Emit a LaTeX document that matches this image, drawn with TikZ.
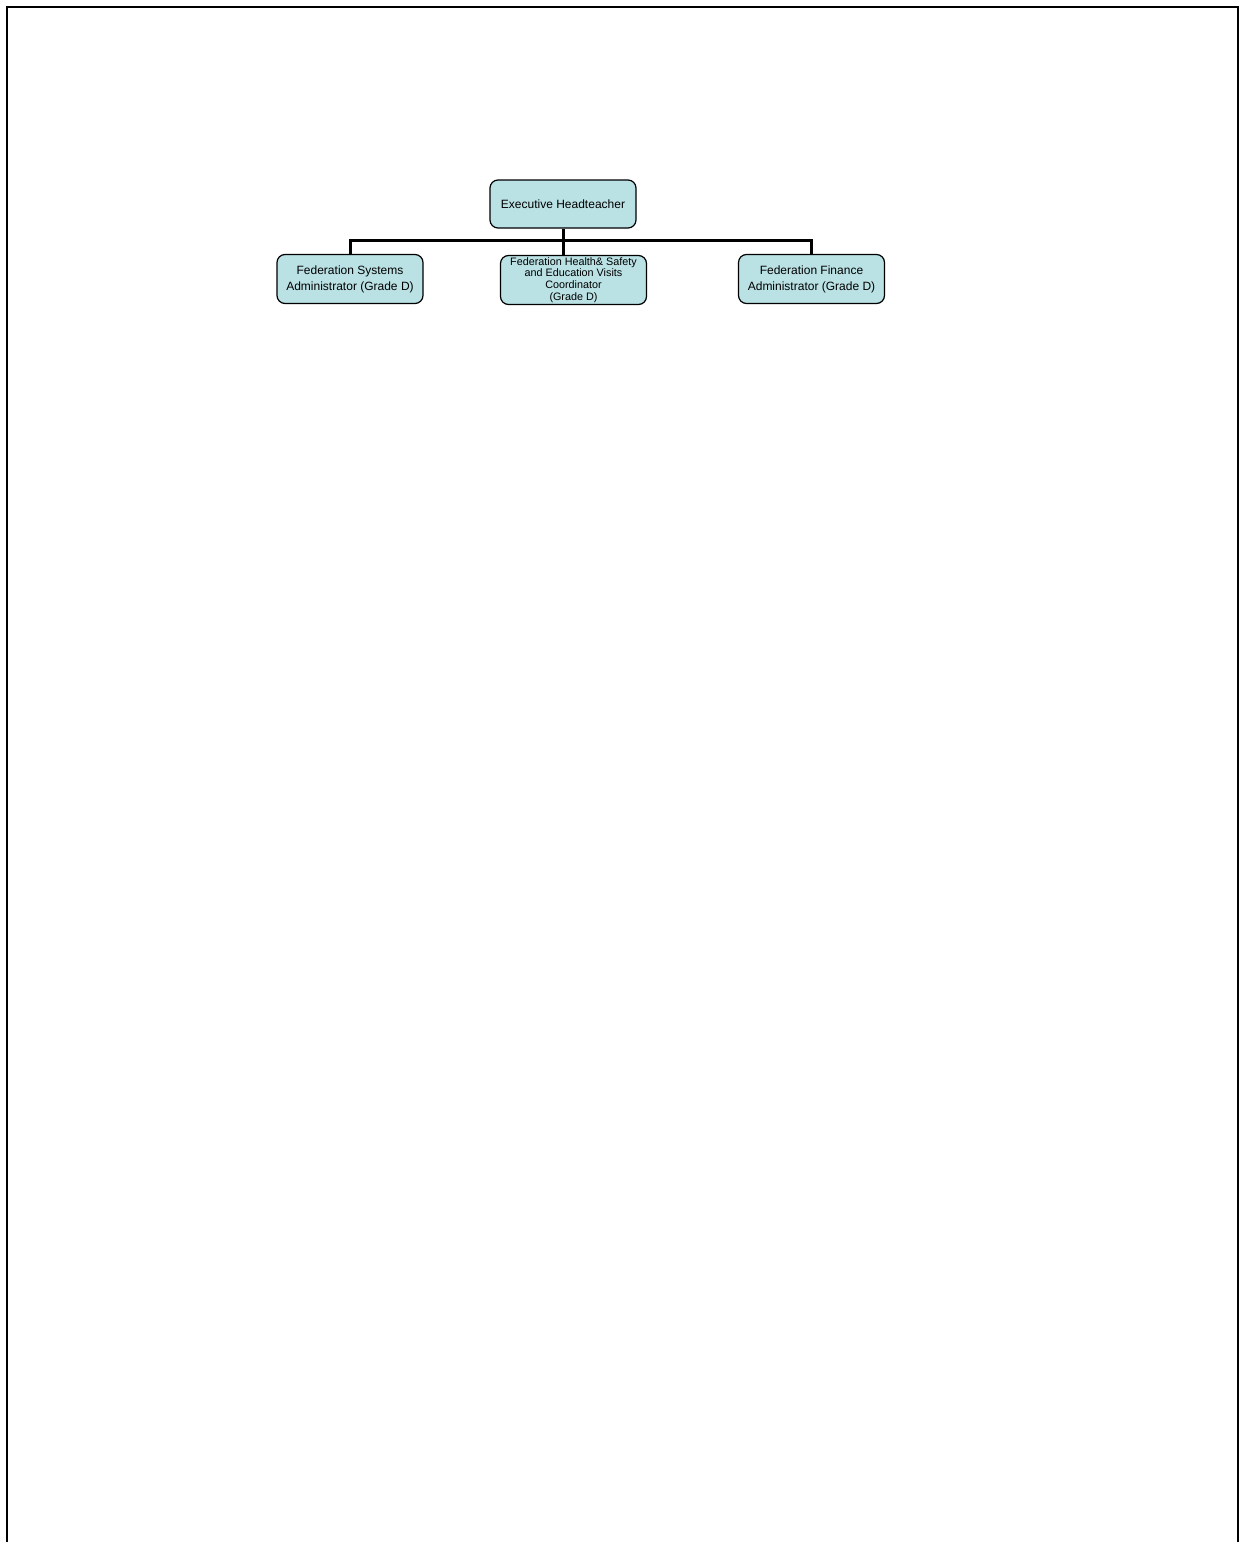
\documentclass[tikz,border=0pt]{standalone}
\usepackage{fontspec}
\setmainfont{Liberation Sans}
\definecolor{boxfill}{RGB}{186,225,228}
\begin{document}
\begin{tikzpicture}[x=0.5pt,y=-0.5pt,
  orgbox/.style={draw=black, line width=0.6pt, fill=boxfill, rounded corners=4pt,
    minimum width=73pt, minimum height=24.5pt, inner sep=0pt, align=center,
    font=\fontsize{6}{8}\selectfont},
  smallbox/.style={orgbox, font=\fontsize{5.4}{5.85}\selectfont},
  conn/.style={line width=1.5pt}]
\useasboundingbox (0,0) rectangle (1240,1542);
\draw[line width=1.2pt] (7,1542) -- (7,7) -- (1238,7) -- (1238,1542);
\node[orgbox, minimum height=24pt] (exec) at (563,204) {Executive Headteacher};
\node[orgbox] (sys) at (350,279) {Federation Systems\\Administrator (Grade D)};
\node[smallbox] (hs) at (573.5,280) {Federation Health\& Safety\\and Education Visits\\Coordinator\\(Grade D)};
\node[orgbox] (fin) at (811.5,279) {Federation Finance\\Administrator (Grade D)};
\coordinate (bar) at (563,240);
\draw[conn] (exec.south -| bar) -- (bar);
\draw[conn] (sys.north) |- (bar) -| (fin.north);
\draw[conn] (bar) -- (bar |- hs.north);
\end{tikzpicture}
\end{document}
